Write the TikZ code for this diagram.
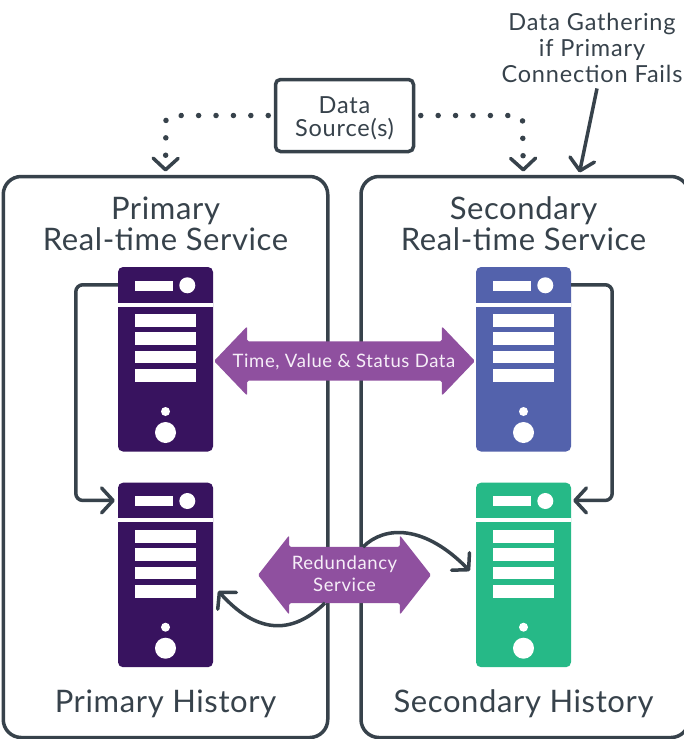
\documentclass[tikz,border=0pt]{standalone}
\usepackage{fontspec}
\setmainfont{Lato}
\usetikzlibrary{arrows.meta,shapes.arrows}
\definecolor{ink}{HTML}{37424B}
\definecolor{deep}{HTML}{38135F}
\definecolor{slateblue}{HTML}{5362AC}
\definecolor{jade}{HTML}{26B987}
\definecolor{plum}{HTML}{8F509F}
\definecolor{pale}{HTML}{F6EEF8}
\tikzset{
  panel/.style={draw=ink,line width=3.5pt,rounded corners=18pt,fill=white},
  caption/.style={text=ink,font=\fontsize{31}{31}\selectfont\addfontfeatures{LetterSpace=2},align=center,inner sep=0pt},
  smallcap/.style={text=ink,font=\fontsize{23.5}{26}\selectfont\addfontfeatures{LetterSpace=3.5},align=center,inner sep=0pt},
  barb/.style={-{Straight Barb[length=11.5pt,width=25pt,line width=3.5pt,round]}},
  link/.style={draw=ink,line width=3.5pt,barb},
  dots/.style={draw=ink,line width=5.5pt,line cap=round,dash pattern=on 0.01pt off 17.4pt,barb},
  wide/.style={double arrow,fill=plum,draw=none,rounded corners=1.5pt,inner sep=0pt},
  widetext/.style={inner sep=0pt,text=pale,align=center,font=\fontsize{18.5}{22}\selectfont\addfontfeatures{LetterSpace=3.3}},
  unit/.style={rectangle,inner sep=0pt,minimum width=95pt,minimum height=184.5pt,rounded corners=5pt},
  unittop/.style={rectangle,inner sep=0pt,minimum width=95pt,minimum height=35.5pt},
}
\newcommand{\serverunit}[4]{%
  \node[unit,fill=#4] (#1) at (#2+47.5,#3+92.25) {};
  \node[unittop] (#1-top) at (#2+47.5,#3+17.75) {};
  \fill[white] (#2,#3+35.5) rectangle (#2+95,#3+39.7);
  \fill[white] (#2+17,#3+13.5) rectangle (#2+55,#3+23.5);
  \fill[white] (#2+69.3,#3+18.3) circle (8pt);
  \fill[white] (#2+17,#3+47) rectangle (#2+78,#3+60);
  \fill[white] (#2+17,#3+65) rectangle (#2+78,#3+78);
  \fill[white] (#2+17,#3+84) rectangle (#2+78,#3+96);
  \fill[white] (#2+17,#3+102) rectangle (#2+78,#3+115);
  \fill[white] (#2+47.5,#3+144.5) circle (4.5pt);
  \fill[white] (#2+47.5,#3+165.5) circle (10.5pt);
}
\begin{document}
\begin{tikzpicture}[x=1pt,y=-1pt]
\path[use as bounding box] (0,0) rectangle (684,739);
\clip (0,0) rectangle (684,739);
% panels
\node[panel,minimum width=324.5pt,minimum height=561pt,inner sep=0pt] (leftpanel) at (165.5,457) {};
\node[panel,minimum width=328pt,minimum height=561pt,inner sep=0pt] (rightpanel) at (525,457) {};
% servers
\serverunit{pr}{118}{267}{deep}
\serverunit{ph}{118}{482.7}{deep}
\serverunit{sr}{476}{267}{slateblue}
\serverunit{sh}{476}{482.7}{jade}
% source and label
\node[draw=ink,line width=3.5pt,rounded corners=5pt,fill=white,minimum width=138pt,minimum height=72pt,inner sep=0pt] (source) at (344.5,115.5) {};
\node[smallcap] (sourcetext) at (344.5,118.5) {Data\\[-3.5pt]Source(s)};
\node[smallcap] (faillabel) at (592,47.5) {Data Gathering\\if Primary\\Connection Fails};
% titles
\node[caption] (t1) at (165.5,224) {Primary\\Real-time Service};
\node[caption] (t2) at (523.5,224) {Secondary\\Real-time Service};
\node[caption] (t3) at (165.5,703.5) {Primary History};
\node[caption] (t4) at (523.5,703.5) {Secondary History};
% arrows
\node[wide,minimum height=261pt,double arrow tip angle=92.5,double arrow head extend=15pt] (timearrow) at (344.5,361) {\rule{0pt}{39pt}};
\node[widetext] (timetext) at (344,362) {Time, Value \& Status Data};
\node[wide,minimum height=173pt,double arrow tip angle=103.7,double arrow head extend=11.5pt] (redun) at (344.5,575) {\rule{0pt}{56pt}};
\node[widetext] (reduntext) at (344.5,574) {Redundancy\\Service};
% connectors
\draw[link,rounded corners=7pt] (pr-top.west) -- ++(-42,0) |- ([xshift=-3pt]ph-top.west);
\draw[link,rounded corners=7pt] (sr-top.east) -- ++(41,0) |- ([xshift=2pt]sh-top.east);
\coordinate (hitL) at (165.5,171.5);
\coordinate (hitR) at (523.3,171.5);
\coordinate (hitF) at (579.5,172.5);
\draw[dots] ([xshift=-5.5pt]source.west) -- ++(-87,0) -- (166,118.5) -- (hitL);
\draw[dots] ([xshift=5.5pt]source.east) -- ++(87,0) -- (522.5,118.5) -- (hitR);
\draw[link] ([xshift=5pt,yshift=-6pt]faillabel.south) -- (hitF);
\draw[link] ([xshift=18.5pt,yshift=28pt]redun.center) .. controls (385,525) and (425,525) .. ([xshift=-6pt,yshift=4pt]sh.west);
\draw[link] ([xshift=-19.5pt,yshift=-28pt]redun.center) .. controls (290,637) and (255,632) .. ([xshift=5pt,yshift=-16pt]ph.east);
\end{tikzpicture}
\end{document}
